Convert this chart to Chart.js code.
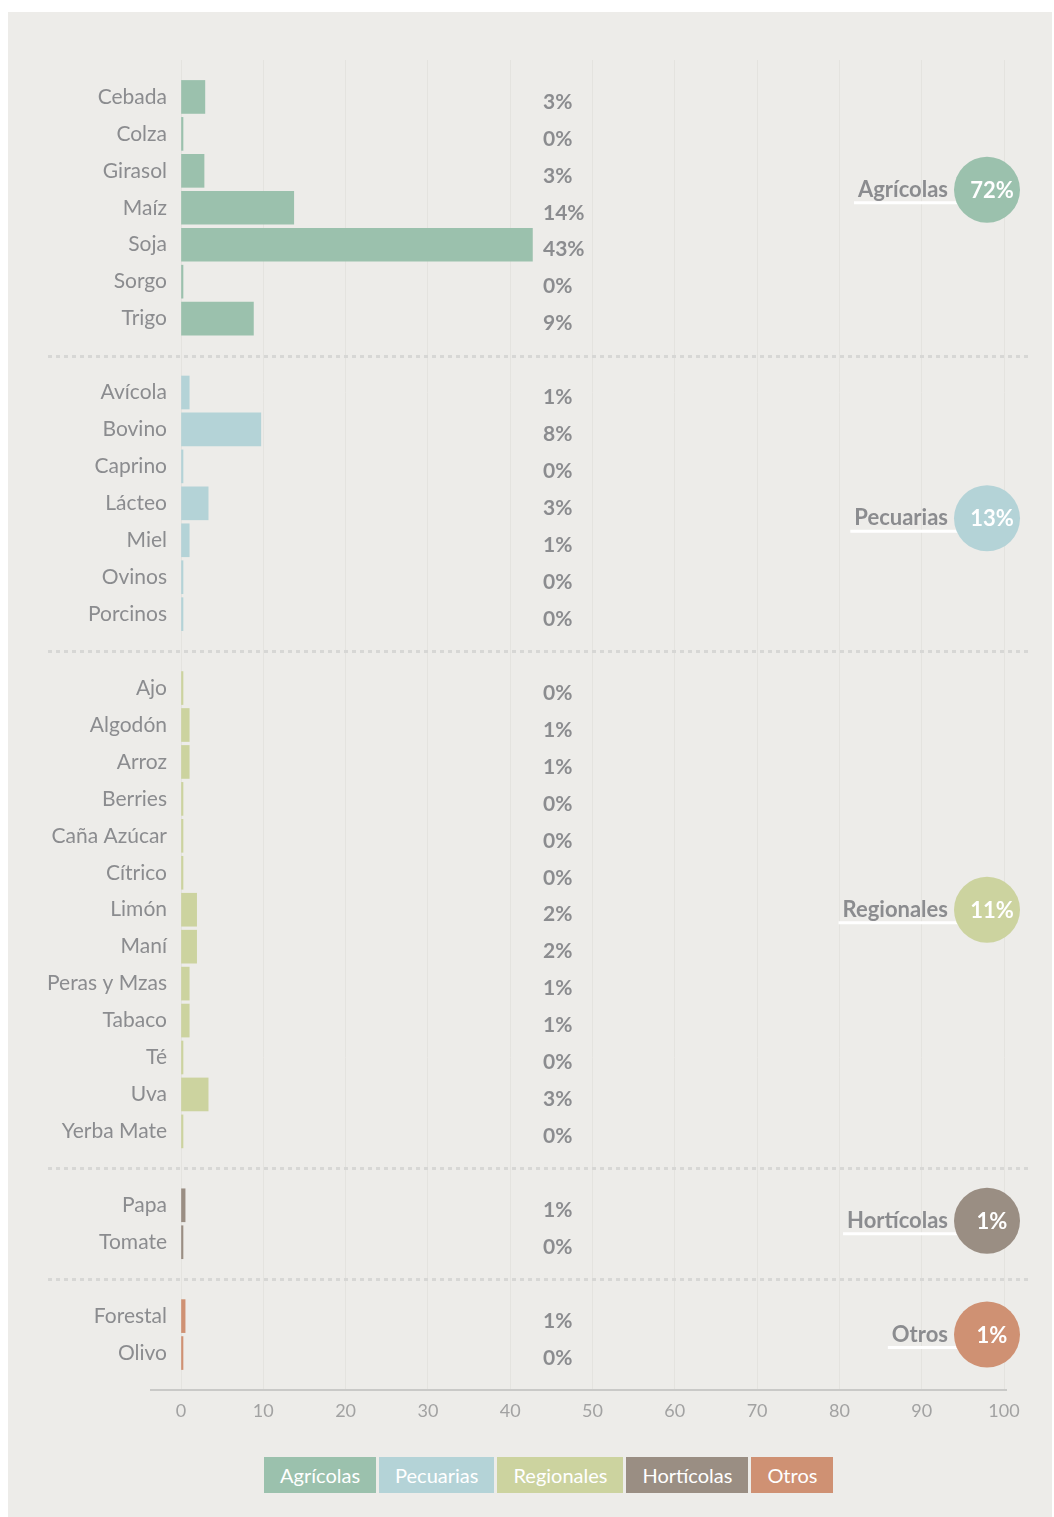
<!DOCTYPE html>
<html>
<head>
<meta charset="utf-8">
<script src="https://cdn.jsdelivr.net/npm/chart.js@4.4.0/dist/chart.umd.min.js"></script>
<style>
  html, body { margin: 0; background: #fff; }
  #panel { position: absolute; left: 8px; top: 12px; width: 1044px; height: 1505px; background: #EDECE9; }
  #wrap { position: absolute; left: 0; top: 0; width: 1044px; height: 1430px; }
  #legend { position: absolute; left: 256px; top: 1445px; display: flex; gap: 3px;
            font-family: Lato, sans-serif; font-size: 20px; color: #fff; }
  #legend span { display: block; height: 36px; line-height: 36px; padding: 0 16px; }
</style>
</head>
<body>
<div id="panel">
  <div id="wrap"><canvas id="chart"></canvas></div>
  <div id="legend"></div>
</div>
<script>
// ---- datos ----
const agriNames = ['Cebada', 'Colza', 'Girasol', 'Maíz', 'Soja', 'Sorgo', 'Trigo'];
const agriVals  = [2.9, 0, 2.8, 13.7, 42.7, 0, 8.8];
const agriPct   = ['3%', '0%', '3%', '14%', '43%', '0%', '9%'];

const pecNames = ['Avícola', 'Bovino', 'Caprino', 'Lácteo', 'Miel', 'Ovinos', 'Porcinos'];
const pecVals  = [1.0, 9.7, 0, 3.3, 1.0, 0, 0];
const pecPct   = ['1%', '8%', '0%', '3%', '1%', '0%', '0%'];

const regNames = ['Ajo', 'Algodón', 'Arroz', 'Berries', 'Caña Azúcar', 'Cítrico', 'Limón', 'Maní',
                  'Peras y Mzas', 'Tabaco', 'Té', 'Uva', 'Yerba Mate'];
const regVals  = [0, 1.0, 1.0, 0, 0, 0, 1.9, 1.9, 1.0, 1.0, 0, 3.3, 0];
const regPct   = ['0%', '1%', '1%', '0%', '0%', '0%', '2%', '2%', '1%', '1%', '0%', '3%', '0%'];

const hortNames = ['Papa', 'Tomate'];
const hortVals  = [0.5, 0];
const hortPct   = ['1%', '0%'];

const otrosNames = ['Forestal', 'Olivo'];
const otrosVals  = [0.5, 0];
const otrosPct   = ['1%', '0%'];

const groupNames  = ['Agrícolas', 'Pecuarias', 'Regionales', 'Hortícolas', 'Otros'];
const groupTotals = ['72%', '13%', '11%', '1%', '1%'];
const groupColors = ['#9BC1AD', '#B4D3D7', '#CCD39F', '#9A8E83', '#CF9173'];

const groups = [
  { names: agriNames, vals: agriVals, pct: agriPct },
  { names: pecNames, vals: pecVals, pct: pecPct },
  { names: regNames, vals: regVals, pct: regPct },
  { names: hortNames, vals: hortVals, pct: hortPct },
  { names: otrosNames, vals: otrosVals, pct: otrosPct }
];

// categorías con huecos entre grupos
const labels = [''];
const spacerIdx = [0];
groups.forEach(g => {
  labels.push(...g.names);
  spacerIdx.push(labels.length);
  labels.push('');
});

const GRAY = '#8B8C8F';

// separadores, porcentajes, burbujas
const extras = {
  id: 'extras',
  afterDraw(chart, args, opts) {
    const { ctx, chartArea: a, scales: { y } } = chart;
    ctx.save();

    // línea del eje x
    ctx.strokeStyle = '#C9C9C7';
    ctx.lineWidth = 2;
    ctx.beginPath();
    ctx.moveTo(a.left - 31, a.bottom);
    ctx.lineTo(a.right + 3, a.bottom);
    ctx.stroke();

    // separadores punteados
    ctx.setLineDash([4, 4]);
    ctx.lineWidth = 3;
    ctx.strokeStyle = '#D7D7D5';
    spacerIdx.slice(1, -1).forEach(i => {
      const py = Math.round(y.getPixelForValue(i)) + 0.5;
      ctx.beginPath();
      ctx.moveTo(40, py);
      ctx.lineTo(a.right + 26, py);
      ctx.stroke();
    });
    ctx.setLineDash([]);

    // porcentajes por cultivo
    ctx.font = 'bold 21px Lato';
    ctx.fillStyle = GRAY;
    ctx.textAlign = 'left';
    ctx.textBaseline = 'middle';
    groups.forEach(g => g.names.forEach((n, i) => {
      ctx.fillText(g.pct[i], a.left + 362, y.getPixelForValue(labels.indexOf(n)) + 5);
    }));

    // burbujas con totales
    groups.forEach((g, k) => {
      const first = labels.indexOf(g.names[0]);
      const last = labels.indexOf(g.names[g.names.length - 1]);
      const cy = y.getPixelForValue((first + last) / 2) + opts.nudge[k];
      const cx = a.right - 17;
      const r = 33;

      ctx.font = 'bold 22px Lato';
      ctx.textAlign = 'right';
      const tx = cx - r - 6;
      const w = ctx.measureText(groupNames[k]).width;
      ctx.strokeStyle = '#fff';
      ctx.lineWidth = 3;
      ctx.beginPath();
      ctx.moveTo(tx - w - 4, cy + 13);
      ctx.lineTo(cx, cy + 13);
      ctx.stroke();
      ctx.fillStyle = GRAY;
      ctx.fillText(groupNames[k], tx, cy);

      ctx.fillStyle = groupColors[k];
      ctx.beginPath();
      ctx.arc(cx, cy, r, 0, Math.PI * 2);
      ctx.fill();

      ctx.fillStyle = '#fff';
      ctx.textAlign = 'center';
      ctx.fillText(groupTotals[k], cx + 5, cy + 1);
    });
    ctx.restore();
  }
};

const chart = new Chart(document.getElementById('chart'), {
  type: 'bar',
  data: {
    labels: labels,
    datasets: groups.map((g, k) => ({
      label: groupNames[k],
      data: g.names.map((n, i) => ({ y: n, x: g.vals[i] })),
      backgroundColor: groupColors[k],
      barThickness: 33,
      minBarLength: 2,
      grouped: false
    }))
  },
  options: {
    indexAxis: 'y',
    responsive: true,
    maintainAspectRatio: false,
    animation: false,
    layout: { padding: { top: 48, right: 48, bottom: 12, left: 0 } },
    scales: {
      x: {
        min: 0, max: 100,
        ticks: { stepSize: 10, color: '#A2A2A2', font: { family: 'Lato', size: 18 }, padding: 10 },
        grid: { color: '#E4E3DF', drawTicks: false },
        border: { display: false },
        afterFit: s => { s.height = 40; }
      },
      y: {
        offset: false,
        ticks: { color: GRAY, font: { family: 'Lato', size: 21 }, padding: 14, autoSkip: false },
        grid: { display: false, drawTicks: false },
        border: { display: false },
        afterFit: s => { s.width = 173; }
      }
    },
    plugins: {
      legend: { display: false },
      tooltip: { enabled: false },
      extras: { nudge: [-18, 15, 0, -3, 0] }
    }
  },
  plugins: [extras]
});

// leyenda en HTML
const legendEl = document.getElementById('legend');
chart.data.datasets.forEach(ds => {
  const s = document.createElement('span');
  s.textContent = ds.label;
  s.style.background = ds.backgroundColor;
  legendEl.appendChild(s);
});
</script>
</body>
</html>
